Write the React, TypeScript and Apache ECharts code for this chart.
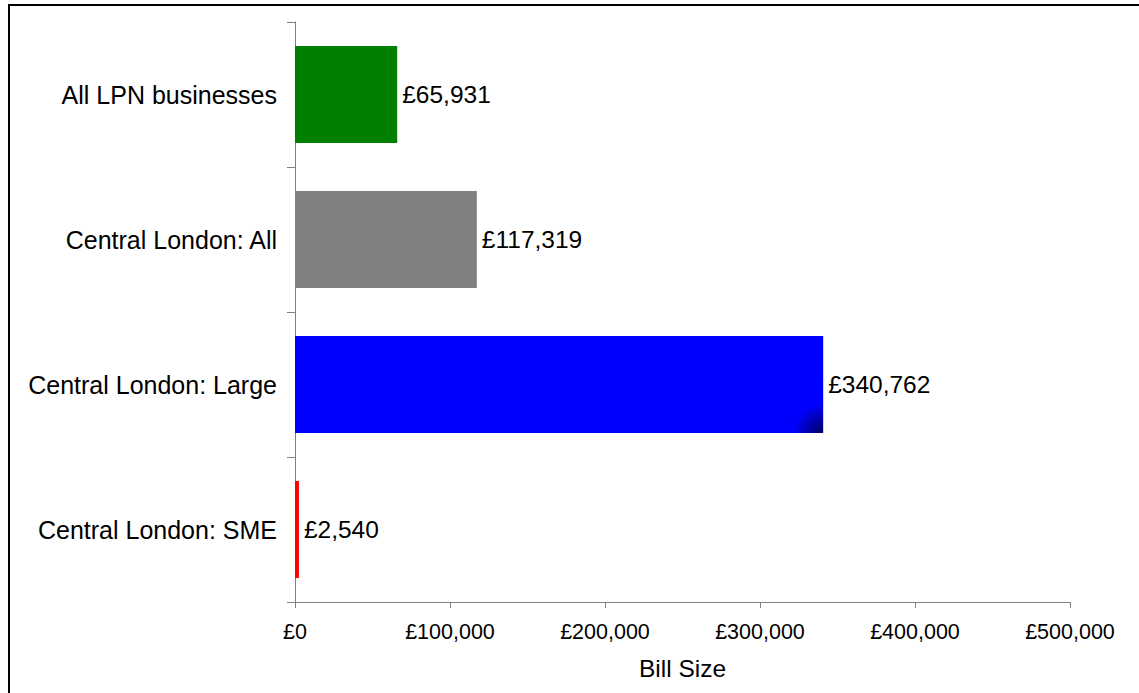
import React, { useEffect, useRef } from "react";
import * as echarts from "echarts";

const categories = [
  "Central London: SME",
  "Central London: Large",
  "Central London: All",
  "All LPN businesses",
];
const values = [2540, 340762, 117319, 65931];
const barColors = ["#FF0000", "#0000FF", "#808080", "#008000"];
const xTicks = [0, 100000, 200000, 300000, 400000, 500000];
const titleText = "Figure 3.2: Average Bill Size by Customer Type";

const FONT = "'Liberation Sans', Arial, sans-serif";

function money(v: number): string {
  return "£" + Math.round(v).toString().replace(/\B(?=(\d{3})+(?!\d))/g, ",");
}

export default function App() {
  const ref = useRef<HTMLDivElement>(null);
  useEffect(() => {
    if (!ref.current) return;
    const chart = echarts.init(ref.current, null, { renderer: "svg" });
    const buildData = (shade: any) =>
      values.map((v, i) => ({
        value: v,
        itemStyle: { color: i === 1 && shade ? shade : barColors[i] },
      }));
    chart.setOption({
      animation: false,
      backgroundColor: "#ffffff",
      textStyle: { fontFamily: FONT },
      grid: { left: 295, right: 69, top: 22, bottom: 91, containLabel: false },
      graphic: [
        {
          type: "text",
          left: 12,
          top: -19.5,
          style: {
            text: titleText,
            fontSize: 18,
            fontWeight: "bold",
            fontFamily: FONT,
            fill: "#000",
          },
        },
        {
          type: "line",
          shape: { x1: 8, y1: 5, x2: 1139, y2: 5 },
          style: { stroke: "#000", lineWidth: 2 },
        },
        {
          type: "line",
          shape: { x1: 9, y1: 5, x2: 9, y2: 693 },
          style: { stroke: "#000", lineWidth: 2 },
        },
      ],
      xAxis: {
        type: "value",
        min: xTicks[0],
        max: xTicks[xTicks.length - 1],
        interval: 100000,
        name: "Bill Size",
        nameLocation: "middle",
        nameGap: 54,
        nameTextStyle: { fontSize: 24.5, color: "#000", fontFamily: FONT },
        axisLine: { show: true, lineStyle: { color: "#808080", width: 1 } },
        axisTick: { show: true, length: 6, lineStyle: { color: "#808080" } },
        axisLabel: {
          fontSize: 21.5,
          color: "#000",
          margin: 19,
          fontFamily: FONT,
          formatter: (v: number) => money(v),
        },
        splitLine: { show: false },
      },
      yAxis: {
        type: "category",
        data: categories,
        axisLine: { show: true, lineStyle: { color: "#808080", width: 1 } },
        axisTick: { show: true, length: 8, alignWithLabel: false, lineStyle: { color: "#808080" } },
        axisLabel: { fontSize: 25, color: "#000", margin: 18, fontFamily: FONT },
      },
      series: [
        {
          type: "bar",
          data: buildData(null),
          barCategoryGap: "33%",
          label: {
            show: true,
            position: "right",
            distance: 5,
            fontSize: 24.5,
            color: "#000",
            fontFamily: FONT,
            formatter: (p: any) => money(p.value),
          },
        },
      ],
    });
    // dark corner shading on the large bar, placed via the chart's own scales
    const end = chart.convertToPixel({ seriesIndex: 0 }, [values[1], 1]) as number[];
    const nextBand = chart.convertToPixel({ seriesIndex: 0 }, [values[1], 0]) as number[];
    if (end && nextBand) {
      const band = Math.abs(nextBand[1] - end[1]);
      const half = (band * 0.67) / 2;
      chart.setOption({
        series: [
          {
            data: buildData({
              type: "radial",
              x: end[0],
              y: end[1] + half,
              r: 30,
              global: true,
              colorStops: [
                { offset: 0, color: "#000060" },
                { offset: 1, color: "#0000FF" },
              ],
            }),
          },
        ],
      });
    }
    return () => chart.dispose();
  }, []);
  return (
    <div
      ref={ref}
      style={{ position: "fixed", left: 0, top: 0, width: 1139, height: 693, background: "#fff" }}
    />
  );
}
